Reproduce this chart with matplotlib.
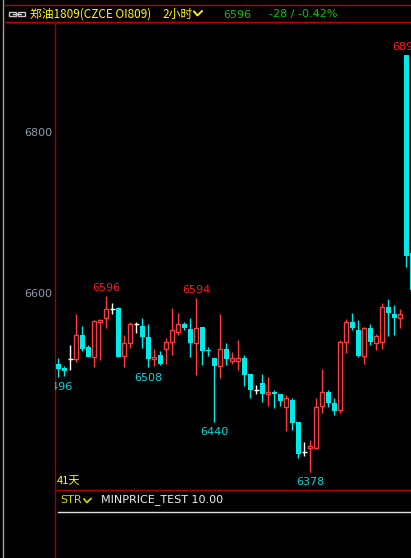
import numpy as np
import matplotlib
matplotlib.use('Agg')
import matplotlib.pyplot as plt
from matplotlib.patches import Rectangle
from matplotlib.transforms import offset_copy

# 2-hour bars, OI809
opens = [6512, 6507, 6518, 6518, 6548, 6533, 6521, 6564, 6569, 6580,
         6581, 6522, 6538, 6562, 6559, 6545, 6518, 6523, 6531, 6539,
         6551, 6561, 6555, 6538, 6558, 6529, 6519, 6509, 6531, 6516,
         6515, 6519, 6499, 6479, 6488, 6475, 6477, 6475, 6459, 6467,
         6440, 6403, 6407, 6408, 6460, 6477, 6463, 6455, 6539, 6564,
         6554, 6522, 6557, 6538, 6539, 6582, 6574, 6569, 6896, 6650]
highs = [6519, 6509, 6535, 6574, 6559, 6535, 6567, 6568, 6596, 6588,
         6583, 6548, 6564, 6564, 6569, 6561, 6531, 6528, 6544, 6581,
         6575, 6564, 6569, 6594, 6558, 6533, 6519, 6574, 6538, 6527,
         6542, 6523, 6499, 6486, 6500, 6496, 6480, 6475, 6473, 6470,
         6440, 6415, 6417, 6469, 6505, 6480, 6469, 6542, 6568, 6575,
         6567, 6558, 6561, 6549, 6587, 6593, 6585, 6580, 6896, 6655]
lows = [6496, 6497, 6504, 6514, 6528, 6521, 6508, 6517, 6557, 6574,
        6521, 6508, 6532, 6550, 6532, 6508, 6509, 6511, 6512, 6523,
        6548, 6554, 6521, 6498, 6510, 6522, 6440, 6495, 6510, 6512,
        6504, 6484, 6469, 6475, 6465, 6460, 6457, 6460, 6428, 6430,
        6395, 6398, 6378, 6408, 6451, 6459, 6448, 6451, 6525, 6554,
        6521, 6512, 6535, 6529, 6530, 6547, 6548, 6557, 6632, 6590]
closes = [6506, 6503, 6518, 6548, 6530, 6521, 6565, 6567, 6580, 6580,
          6521, 6538, 6562, 6562, 6545, 6518, 6521, 6512, 6539, 6554,
          6561, 6557, 6538, 6557, 6528, 6528, 6509, 6531, 6518, 6519,
          6519, 6498, 6479, 6479, 6475, 6477, 6475, 6466, 6469, 6439,
          6400, 6403, 6410, 6459, 6477, 6463, 6453, 6539, 6564, 6557,
          6522, 6557, 6539, 6547, 6583, 6575, 6569, 6574, 6646, 6604]

# bars that carry a high / low marker
high_marks = [8, 23, 58]
low_marks = [0, 15, 26, 42]

W, H = 411, 558
UP = '#ff3b3b'
DOWN = '#00eaea'

fig = plt.figure(figsize=(W / 100, H / 100), dpi=100, facecolor='black')

ax = fig.add_axes([55 / W, (H - 490) / H, (W - 55) / W, (490 - 22) / H])
ax.set_facecolor('none')
for s in ax.spines.values():
    s.set_visible(False)

o = np.array(opens, float)
h = np.array(highs, float)
l = np.array(lows, float)
c = np.array(closes, float)
x = np.arange(len(o))
bw = 0.78

up = c > o
dn = c < o
dj = c == o

# falling bars: solid bodies
ax.vlines(x[dn], l[dn], h[dn], color=DOWN, lw=1)
ax.bar(x[dn], (o - c)[dn], bottom=c[dn], width=bw, color=DOWN, lw=0)

# rising bars: hollow bodies, wicks outside the body only
ax.vlines(x[up], c[up], h[up], color=UP, lw=1)
ax.vlines(x[up], l[up], o[up], color=UP, lw=1)
ax.bar(x[up], (c - o)[up], bottom=o[up], width=bw * 0.9, facecolor='black',
       edgecolor=UP, lw=1)

# flat bars: white cross
ax.vlines(x[dj], l[dj], h[dj], color='white', lw=1)
ax.hlines(c[dj], x[dj] - bw / 2, x[dj] + bw / 2, color='white', lw=1)

above = offset_copy(ax.transData, fig=fig, y=2, units='points')
below = offset_copy(ax.transData, fig=fig, y=-4, units='points')
for i in high_marks:
    ax.text(x[i], h[i], f'{highs[i]:.0f}', transform=above, ha='center',
            va='bottom', color='#ff1a1a', fontsize=8, clip_on=True)
for i in low_marks:
    ax.text(x[i], l[i], f'{lows[i]:.0f}', transform=below, ha='center',
            va='top', color='#00dada', fontsize=8, clip_on=True)

ax.set_xlim(-0.55, 58.78)
ax.set_ylim(6355.3, 6936.6)
ax.set_xticks([])
ax.set_yticks([6600, 6800])
ax.tick_params(axis='y', length=0, pad=2, labelcolor='#8d9cab', labelsize=8)

# window frame, header and indicator strip in pixel coordinates
ov = fig.add_axes([0, 0, 1, 1], zorder=-1)
ov.set_xlim(0, W)
ov.set_ylim(H, 0)
ov.axis('off')

ov.plot([2.7, 2.7], [0, H], color='#a0a0a0', lw=1)
ov.plot([5, W], [4.7, 4.7], color='#c00000', lw=1)
ov.plot([5, W], [22, 22], color='#c00000', lw=1)
ov.plot([55.3, 55.3], [22, H], color='#9a0000', lw=1)
ov.plot([55.3, W], [490, 490], color='#b00000', lw=1)
ov.plot([58, W], [512, 512], color='#e0e0e0', lw=1)

# link icon
ov.add_patch(Rectangle((9, 11.5), 7, 4, fill=False, ec='#c8c8c8', lw=1))
ov.add_patch(Rectangle((18, 11.5), 7, 4, fill=False, ec='#c8c8c8', lw=1))
ov.plot([13, 21], [13.5, 13.5], color='#c8c8c8', lw=1)

cjk = ['Noto Sans CJK SC', 'DejaVu Sans']
ov.text(30, 14, '郑油1809(CZCE OI809)', color='#ffff00', fontsize=8.5,
        family=cjk, va='center', ha='left')
ov.text(162, 14, '2小时', color='#ffff00', fontsize=8.5, family=cjk,
        va='center', ha='left')
ov.plot([194, 197.5, 202], [11.5, 15.5, 11], color='#ffff00', lw=1.3)
ov.text(223, 14.5, '6596', color='#00c800', fontsize=8, va='center',
        ha='left')
ov.text(269, 14.5, '-28 / -0.42%', color='#00c800', fontsize=8,
        va='center', ha='left')

ov.text(57, 481, '41天', color='#ffff00', fontsize=8, family=cjk,
        va='center', ha='left')
ov.text(60, 500, 'STR', color='#d8d800', fontsize=8, va='center', ha='left')
ov.plot([84, 87, 91], [499, 502.5, 498.5], color='#d8d800', lw=1.2)
ov.text(101, 500, 'MINPRICE_TEST 10.00', color='#f0f0f0', fontsize=8,
        va='center', ha='left')

fig.savefig('out.png', dpi=100, facecolor='black')
